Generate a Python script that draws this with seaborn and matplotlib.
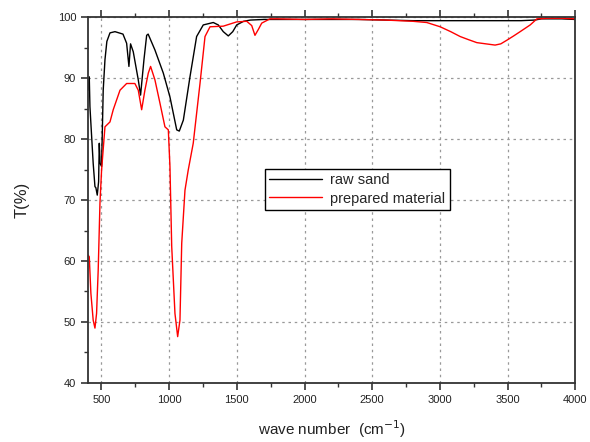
import matplotlib
matplotlib.use("Agg")
import matplotlib.pyplot as plt
import seaborn as sns
import pandas as pd
from matplotlib.ticker import MultipleLocator

# raw sand spectrum (wavenumber, %T)
raw_x = [400, 410, 415, 426, 439, 452, 459, 469, 479, 484, 490, 501, 513, 526, 540, 563,
         600, 659, 686, 703, 715, 735, 772, 789, 814, 834, 845, 895, 957, 1006, 1056, 1075,
         1105, 1154, 1203, 1252, 1326, 1363, 1400, 1437, 1470, 1499, 1550, 1600, 1700, 1800,
         2000, 2200, 2400, 2600, 2800, 3000, 3200, 3400, 3600, 3700, 3750, 3800, 3900, 4000]
raw_y = [88.0, 90.2, 85.3, 81.0, 76.0, 72.2, 72.0, 70.8, 73.0, 79.3, 76.0, 75.5, 88.0, 93.0, 96.0, 97.4,
         97.6, 97.2, 95.7, 91.9, 95.6, 94.3, 89.7, 87.2, 93.0, 97.0, 97.2, 94.6, 90.8, 86.9, 81.5, 81.3,
         83.1, 90.2, 96.8, 98.7, 99.1, 98.7, 97.6, 96.9, 97.6, 98.7, 99.3, 99.5, 99.6, 99.6,
         99.6, 99.6, 99.6, 99.5, 99.4, 99.4, 99.4, 99.4, 99.4, 99.5, 99.7, 99.7, 99.7, 99.6]

# prepared material spectrum (wavenumber, %T)
prep_x = [400, 410, 422, 439, 452, 464, 476, 489, 501, 526, 563, 587, 637, 686, 747, 772,
          797, 821, 846, 863, 895, 932, 969, 994, 1006, 1019, 1043, 1063, 1080, 1093, 1117,
          1141, 1178, 1228, 1265, 1302, 1400, 1499, 1573, 1610, 1634, 1660, 1684, 1745, 1800,
          2000, 2200, 2400, 2600, 2800, 2903, 3002, 3080, 3150, 3210, 3273, 3340, 3408, 3450,
          3495, 3545, 3593, 3667, 3717, 3800, 3900, 4000]
prep_y = [61.0, 60.7, 54.7, 50.3, 49.0, 51.4, 58.5, 69.5, 74.9, 82.0, 82.8, 84.8, 88.0, 89.1, 89.1, 88.0,
          84.8, 88.0, 90.8, 91.9, 89.7, 85.9, 82.0, 81.5, 75.5, 62.4, 51.4, 47.6, 50.3, 62.9, 71.6,
          74.9, 79.3, 89.1, 96.8, 98.4, 98.5, 99.2, 99.3, 98.6, 97.0, 98.0, 99.0, 99.7, 99.7,
          99.6, 99.7, 99.6, 99.5, 99.3, 99.1, 98.4, 97.6, 96.8, 96.3, 95.8, 95.6, 95.4, 95.6,
          96.2, 96.9, 97.6, 98.7, 99.7, 99.8, 99.8, 99.7]

series_labels = ["raw sand", "prepared material"]

sns.set_theme(style="white")
plt.rcParams["font.family"] = ["Liberation Sans", "DejaVu Sans"]

fig = plt.figure(figsize=(5.9, 4.42), dpi=100)
ax = fig.add_axes([0.149, 0.1335, 0.826, 0.828])

df_raw = pd.DataFrame({"x": raw_x, "y": raw_y})
df_prep = pd.DataFrame({"x": prep_x, "y": prep_y})
sns.lineplot(data=df_raw, x="x", y="y", ax=ax, color="black", lw=1.0, sort=False,
             label=series_labels[0], estimator=None)
sns.lineplot(data=df_prep, x="x", y="y", ax=ax, color="red", lw=1.0, sort=False,
             label=series_labels[1], estimator=None)

ax.set_xlim(400, 4000)
ax.set_ylim(40, 100)
ax.xaxis.set_major_locator(MultipleLocator(500))
ax.xaxis.set_minor_locator(MultipleLocator(250))
ax.yaxis.set_major_locator(MultipleLocator(10))
ax.yaxis.set_minor_locator(MultipleLocator(5))

ax.grid(True, which="major", color="#999999", linestyle=(0, (2, 3)), lw=0.9)
for s in ax.spines.values():
    s.set_color("#333333")
    s.set_linewidth(1.3)
    s.set_visible(True)

ax.tick_params(axis="both", which="major", direction="out", length=5, width=1.2,
               color="#333333", labelsize=8, labelcolor="#222222")
ax.tick_params(axis="both", which="minor", direction="out", length=3, width=1.0,
               color="#333333")
ax.tick_params(axis="x", which="both", top=True, bottom=True)
ax.tick_params(axis="y", which="both", left=True, right=False)

ax.set_xlabel("wave number  (cm$^{-1}$)", fontsize=11, color="#222222", labelpad=10)
ax.set_ylabel("T(%)", fontsize=12, color="#222222", labelpad=20)

leg = ax.legend(loc="lower left", bbox_to_anchor=(0.363, 0.473), fontsize=10.5,
                frameon=True, fancybox=False, edgecolor="black", framealpha=1,
                borderpad=0.3, handlelength=3.6, labelspacing=0.3, borderaxespad=0,
                handletextpad=0.6)
leg.get_frame().set_linewidth(1.0)

fig.savefig("out.png", dpi=100)
